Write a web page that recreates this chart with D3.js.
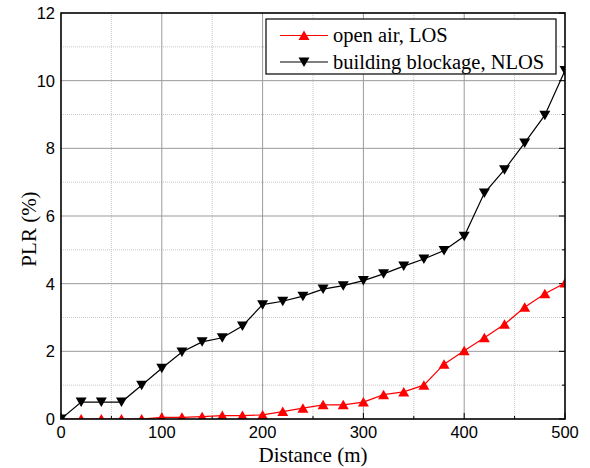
<!DOCTYPE html>
<html>
<head>
<meta charset="utf-8">
<script src="https://cdn.jsdelivr.net/npm/d3@7"></script>
<style>
  body { margin: 0; background: #fff; }
  svg { display: block; }
  .sans { font-family: 'Liberation Sans', Arimo, Arial, Helvetica, sans-serif; font-size: 16.5px; }
  .serif { font-family: 'Liberation Serif', Tinos, 'Times New Roman', Times, serif; }
</style>
</head>
<body>
<div id="chart"></div>
<script>
const distance = [0, 20, 40, 60, 80, 100, 120, 140, 160, 180, 200, 220, 240, 260, 280, 300, 320, 340, 360, 380, 400, 420, 440, 460, 480, 500];
const plrLOS = [0, 0, 0, 0, 0, 0.05, 0.05, 0.07, 0.1, 0.1, 0.12, 0.22, 0.32, 0.42, 0.42, 0.5, 0.72, 0.8, 1.0, 1.62, 2.02, 2.4, 2.8, 3.3, 3.7, 4.02];
const plrNLOS = [0, 0.5, 0.5, 0.5, 1.0, 1.5, 1.98, 2.28, 2.4, 2.75, 3.38, 3.48, 3.63, 3.84, 3.94, 4.09, 4.29, 4.52, 4.73, 4.98, 5.4, 6.68, 7.37, 8.16, 8.98, 10.3];
const xTicks = [0, 100, 200, 300, 400, 500];
const yTicks = [0, 2, 4, 6, 8, 10, 12];
const seriesNames = ["open air, LOS", "building blockage, NLOS"];

const width = 590, height = 468;
const margin = { top: 13, right: 25, bottom: 49, left: 61 };
const innerWidth = width - margin.left - margin.right;
const innerHeight = height - margin.top - margin.bottom;

const svg = d3.select('#chart')
    .append('svg')
    .attr('width', width)
    .attr('height', height);

svg.append('clipPath').attr('id', 'plot-clip')
    .append('rect')
    .attr('width', innerWidth).attr('height', innerHeight);

const g = svg.append('g')
    .attr('transform', `translate(${margin.left},${margin.top})`);

const x = d3.scaleLinear().domain([0, 500]).range([0, innerWidth]);
const y = d3.scaleLinear().domain([0, 12]).range([innerHeight, 0]);

// minor grid (dotted)
const xMinor = d3.range(50, 500, 100);
const yMinor = d3.range(1, 12, 2);
g.selectAll('.xminor').data(xMinor).join('line')
    .attr('x1', d => x(d)).attr('x2', d => x(d))
    .attr('y1', 0).attr('y2', innerHeight)
    .attr('stroke', '#c8c8c8').attr('stroke-dasharray', '1,1');
g.selectAll('.yminor').data(yMinor).join('line')
    .attr('y1', d => y(d)).attr('y2', d => y(d))
    .attr('x1', 0).attr('x2', innerWidth)
    .attr('stroke', '#c8c8c8').attr('stroke-dasharray', '1,1');

// major grid
g.selectAll('.xmajor').data(xTicks.slice(1, -1)).join('line')
    .attr('x1', d => x(d)).attr('x2', d => x(d))
    .attr('y1', 0).attr('y2', innerHeight)
    .attr('stroke', '#9a9a9a').attr('stroke-width', 1);
g.selectAll('.ymajor').data(yTicks.slice(1, -1)).join('line')
    .attr('y1', d => y(d)).attr('y2', d => y(d))
    .attr('x1', 0).attr('x2', innerWidth)
    .attr('stroke', '#9a9a9a').attr('stroke-width', 1);

// inward ticks on right and bottom
const allY = d3.range(0, 13, 1);
const allX = d3.range(0, 501, 50);
g.selectAll('.rtick').data(allY).join('line')
    .attr('x1', innerWidth).attr('x2', d => innerWidth - (d % 2 === 0 ? 6 : 3))
    .attr('y1', d => y(d)).attr('y2', d => y(d))
    .attr('stroke', '#000');
g.selectAll('.btick').data(allX).join('line')
    .attr('y1', innerHeight).attr('y2', d => innerHeight - (d % 100 === 0 ? 6 : 3))
    .attr('x1', d => x(d)).attr('x2', d => x(d))
    .attr('stroke', '#000');

// series (clipped to the plot area)
const triUp = 'M0,-5L5.5,4.5L-5.5,4.5z';
const triDown = 'M-5.5,-4.5L5.5,-4.5L0,5z';
const series = [
    { values: plrLOS, color: '#ff0000', up: true },
    { values: plrNLOS, color: '#000000', up: false }
];
const line = d3.line().x((d, i) => x(distance[i])).y(d => y(d));
const plot = g.append('g').attr('clip-path', 'url(#plot-clip)');

series.forEach(s => {
    plot.append('path')
        .datum(s.values)
        .attr('d', line)
        .attr('fill', 'none')
        .attr('stroke', s.color)
        .attr('stroke-width', 1.2);
    plot.selectAll(null).data(s.values).join('path')
        .attr('transform', (d, i) => `translate(${x(distance[i])},${y(d)})`)
        .attr('d', s.up ? triUp : triDown)
        .attr('fill', s.color);
});

// frame
g.append('rect')
    .attr('x', 0).attr('y', 0)
    .attr('width', innerWidth).attr('height', innerHeight)
    .attr('fill', 'none').attr('stroke', '#000').attr('stroke-width', 1.6);

// tick labels
g.selectAll('.xlab').data(xTicks).join('text')
    .attr('class', 'sans')
    .attr('x', d => x(d)).attr('y', innerHeight + 19)
    .attr('text-anchor', 'middle')
    .text(d => d);
g.selectAll('.ylab').data(yTicks).join('text')
    .attr('class', 'sans')
    .attr('x', -6).attr('y', d => y(d) + 6)
    .attr('text-anchor', 'end')
    .text(d => d);

// axis titles
svg.append('text')
    .attr('class', 'serif')
    .attr('x', margin.left + innerWidth / 2).attr('y', 462)
    .attr('text-anchor', 'middle')
    .style('font-size', '21px')
    .text('Distance (m)');
svg.append('text')
    .attr('class', 'serif')
    .attr('transform', 'translate(36,229) rotate(-90)')
    .attr('text-anchor', 'middle')
    .style('font-size', '21px')
    .text('PLR (%)');

// legend
const lg = svg.append('g').attr('transform', 'translate(266,19)');
lg.append('rect')
    .attr('width', 290).attr('height', 55)
    .attr('fill', '#fff').attr('stroke', '#000').attr('stroke-width', 1.2);
series.forEach((s, i) => {
    const ly = 16.5 + i * 26.5;
    lg.append('line')
        .attr('x1', 14).attr('x2', 62)
        .attr('y1', ly).attr('y2', ly)
        .attr('stroke', s.color).attr('stroke-width', 1.2);
    lg.append('path')
        .attr('transform', `translate(38,${ly})`)
        .attr('d', s.up ? triUp : triDown)
        .attr('fill', s.color);
    lg.append('text')
        .attr('class', 'serif')
        .attr('x', 67).attr('y', ly + 6.5)
        .style('font-size', '20.5px')
        .text(seriesNames[i]);
});
</script>
</body>
</html>
